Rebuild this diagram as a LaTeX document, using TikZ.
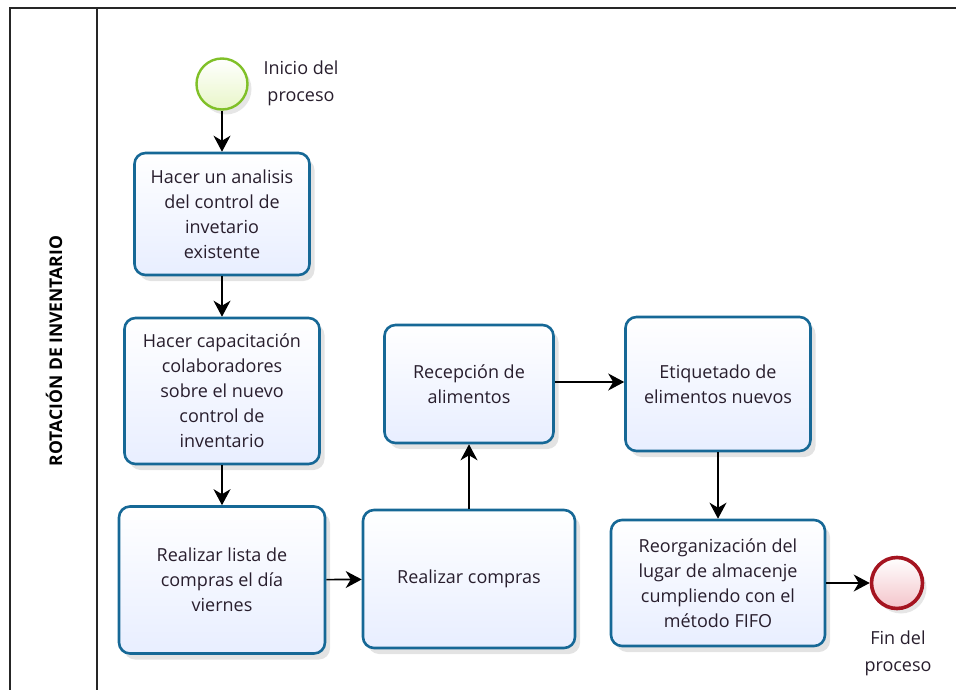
\documentclass[tikz,border=0pt]{standalone}
\usepackage{fontspec}
\setmainfont{Open Sans}
\usepackage{tikz}
\usetikzlibrary{arrows.meta, shadows}
\definecolor{taskblue}{RGB}{22, 104, 150}
\definecolor{taskfill}{RGB}{232, 238, 255}
\definecolor{startgreen}{RGB}{128, 192, 40}
\definecolor{startfill}{RGB}{232, 246, 200}
\definecolor{endred}{RGB}{165, 20, 32}
\definecolor{endfill}{RGB}{244, 196, 202}
\definecolor{textdark}{RGB}{40, 30, 45}

\begin{document}
\begin{tikzpicture}[x=1pt, y=-1pt,
    task/.style={draw=taskblue, line width=2.6pt, rounded corners=11pt,
      top color=white, bottom color=taskfill, align=center, inner sep=0pt,
      text=textdark, font=\fontsize{18}{25}\selectfont,
      drop shadow={opacity=0.22, shadow xshift=5pt, shadow yshift=-6pt}},
    flow/.style={-{Stealth[length=16pt, width=17pt, inset=5pt]}, line width=1.6pt},
    evlabel/.style={align=center, text=textdark, font=\fontsize{18}{27}\selectfont}]
    \useasboundingbox (0,0) rectangle (956,690);
    % pool and lane header
    \draw[line width=1.8pt, black!85] (956,8) -- (10,8) -- (10,690);
    \draw[line width=1.8pt, black!85] (97,8) -- (97,690);
    \node[rotate=90, font=\fontsize{17.5}{20}\selectfont\bfseries] (lane) at (54,351) {ROTACIÓN DE INVENTARIO};
    % events
    \node[circle, draw=startgreen, line width=2.4pt, minimum size=51pt, inner sep=0pt,
      top color=white, bottom color=startfill,
      drop shadow={opacity=0.2, shadow xshift=4pt, shadow yshift=-5pt}] (inicio) at (222,84) {};
    \node[evlabel] (inicioLbl) at (301,83) {Inicio del\\proceso};
    \node[circle, draw=endred, line width=3.6pt, minimum size=51pt, inner sep=0pt,
      top color=white, bottom color=endfill,
      drop shadow={opacity=0.2, shadow xshift=4pt, shadow yshift=-5pt}] (fin) at (897,583) {};
    \node[evlabel] (finLbl) at (898,653) {Fin del\\proceso};
    % tasks
    \node[task, minimum width=175pt, minimum height=122pt] (analisis) at (222,214)
      {Hacer un analisis\\del control de\\invetario\\existente};
    \node[task, minimum width=195pt, minimum height=146pt] (capacitacion) at (222,391)
      {Hacer capacitación\\colaboradores\\sobre el nuevo\\control de\\inventario};
    \node[task, minimum width=206pt, minimum height=147pt] (lista) at (222,580)
      {Realizar lista de\\compras el día\\viernes};
    \node[task, minimum width=212pt, minimum height=138pt] (compras) at (469,579)
      {Realizar compras};
    \node[task, minimum width=169pt, minimum height=118pt] (recepcion) at (469,384)
      {Recepción de\\alimentos};
    \node[task, minimum width=185pt, minimum height=134pt] (etiquetado) at (718,384)
      {Etiquetado de\\elimentos nuevos};
    \node[task, minimum width=214pt, minimum height=126pt] (reorganizacion) at (718,583)
      {Reorganización del\\lugar de almacenje\\cumpliendo con el\\método FIFO};
    % sequence flows
    \draw[flow] (inicio) -- (analisis);
    \draw[flow] (analisis) -- (capacitacion);
    \draw[flow] (capacitacion) -- (lista);
    \draw[flow] (lista) -- (compras);
    \draw[flow] (compras) -- (recepcion);
    \draw[flow] (recepcion.east |- 0,382) -- (etiquetado.west |- 0,382);
    \draw[flow] (etiquetado) -- (reorganizacion);
    \draw[flow] (reorganizacion) -- (fin);
\end{tikzpicture}
\end{document}
